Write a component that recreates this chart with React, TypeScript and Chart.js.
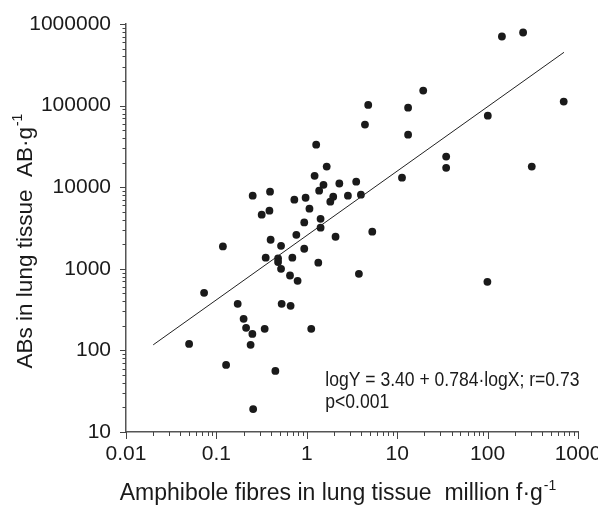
import React, { useEffect, useRef } from "react";
import { Chart, registerables } from "chart.js";

Chart.register(...registerables);

// Amphibole fibres (million f/g) vs asbestos bodies (AB/g)
const fibresX = [
  19.4, 4.78, 13.2, 4.4, 13.2, 1.27, 1.66, 11.3, 1.22, 1.53, 2.29, 3.52, 1.37,
  0.252, 0.392, 0.728, 0.97, 1.96, 1.82, 2.85, 3.97, 0.317, 0.386, 1.07, 0.937,
  1.42, 1.42, 5.3, 0.766, 2.08, 0.398, 0.519, 0.118, 0.937, 0.351, 0.481, 0.692,
  0.481, 1.34, 0.519, 0.652, 0.791, 3.77, 0.0731, 0.172, 0.527, 0.662, 0.2,
  0.213, 0.342, 1.12, 0.25, 0.0499, 0.239, 0.128, 0.449, 0.255, 144, 247, 695,
  100.5, 34.8, 34.8, 308, 99.5,
];
const bodiesY = [
  153000, 102000, 94400, 58500, 44000, 33200, 17900, 13100, 13800, 10700, 11100,
  11700, 9060, 7870, 8810, 7030, 7430, 7640, 6640, 7870, 8090, 4600, 5150, 5450,
  3700, 4100, 3190, 2850, 2610, 2470, 2270, 1910, 1880, 1760, 1370, 1340, 1370,
  1210, 1190, 1000, 828, 713, 869, 508, 372, 372, 352, 244, 189, 184, 184, 159,
  120, 117, 66.4, 56, 19.1, 703000, 787000, 112000, 75300, 23700, 17300, 17900,
  692,
];

// regression line end points
const fitX = [0.02, 700];
const fitY = [117, 450000];

const xRange = [0.01, 1000];
const yRange = [10, 1000000];

const equationLines = ["logY = 3.40 + 0.784·logX; r=0.73", "p<0.001"];
const equationAnchor = [1.6, 45];

const xTitleMain = "Amphibole fibres in lung tissue  million f·g";
const yTitleMain = "ABs in lung tissue  AB·g";
const titleSup = "-1";

const FONT = "'Liberation Sans', Arial, Helvetica, sans-serif";
const INK = "#1a1a1a";

const isPow10 = (v: number) => {
  const l = Math.log10(v);
  return Math.abs(l - Math.round(l)) < 1e-9;
};

const fmt = (v: number) => {
  const l = Math.round(Math.log10(v));
  if (l < 0) return v.toFixed(-l);
  return String(Math.round(v));
};

function drawRich(
  ctx: CanvasRenderingContext2D,
  main: string,
  sup: string,
  size: number,
  cx: number,
  baseY: number,
  angle: number,
  hscale: number
) {
  ctx.save();
  ctx.translate(cx, baseY);
  ctx.rotate(angle);
  ctx.scale(hscale, 1);
  ctx.textAlign = "left";
  ctx.textBaseline = "alphabetic";
  const mainFont = `${size}px ${FONT}`;
  const supFont = `${Math.round(size * 0.6)}px ${FONT}`;
  ctx.font = mainFont;
  const w1 = ctx.measureText(main).width;
  ctx.font = supFont;
  const w2 = ctx.measureText(sup).width;
  const x0 = -(w1 + 1 + w2) / 2;
  ctx.font = mainFont;
  ctx.fillText(main, x0, 0);
  ctx.font = supFont;
  ctx.fillText(sup, x0 + w1 + 1, -size * 0.45);
  ctx.restore();
}

const decorPlugin = {
  id: "decor",
  afterDraw(chart: any) {
    const { ctx } = chart;
    const xs = chart.scales.x;
    const ys = chart.scales.y;
    ctx.save();
    ctx.strokeStyle = "#444";
    ctx.lineWidth = 1;
    ctx.beginPath();
    const xe0 = Math.round(Math.log10(xRange[0]));
    const xe1 = Math.round(Math.log10(xRange[1]));
    for (let e = xe0; e <= xe1; e++) {
      for (let m = 1; m <= 9; m++) {
        const v = m * Math.pow(10, e);
        if (v > xRange[1] * 1.0001) break;
        const px = Math.round(xs.getPixelForValue(v)) + 0.5;
        const len = m === 1 ? 7 : 4;
        ctx.moveTo(px, xs.top);
        ctx.lineTo(px, xs.top + len);
      }
    }
    const ye0 = Math.round(Math.log10(yRange[0]));
    const ye1 = Math.round(Math.log10(yRange[1]));
    for (let e = ye0; e <= ye1; e++) {
      for (let m = 1; m <= 9; m++) {
        const v = m * Math.pow(10, e);
        if (v > yRange[1] * 1.0001) break;
        const py = Math.round(ys.getPixelForValue(v)) + 0.5;
        const len = m === 1 ? 6 : 3.5;
        ctx.moveTo(ys.right, py);
        ctx.lineTo(ys.right - len, py);
      }
    }
    ctx.stroke();

    ctx.fillStyle = INK;
    // axis titles
    const area = chart.chartArea;
    drawRich(ctx, xTitleMain, titleSup, 23, area.left + 212, 500, 0, 1);
    drawRich(ctx, yTitleMain, titleSup, 22.5, 32, area.top + 217, -Math.PI / 2, 1);

    // equation annotation
    ctx.font = `19.5px ${FONT}`;
    ctx.textAlign = "left";
    ctx.textBaseline = "alphabetic";
    const ex = xs.getPixelForValue(equationAnchor[0]);
    const ey = ys.getPixelForValue(equationAnchor[1]);
    equationLines.forEach((t, i) => {
      ctx.save();
      ctx.translate(ex, ey + 7 + i * 22);
      ctx.scale(0.9, 1);
      ctx.fillText(t, 0, 0);
      ctx.restore();
    });
    ctx.restore();
  },
};

export default function App() {
  const ref = useRef<HTMLCanvasElement | null>(null);

  useEffect(() => {
    document.body.style.margin = "0";
    const canvas = ref.current;
    if (!canvas) return;
    const points = fibresX.map((x, i) => ({ x, y: bodiesY[i] }));
    const line = fitX.map((x, i) => ({ x, y: fitY[i] }));
    const chart = new Chart(canvas, {
      type: "scatter",
      data: {
        datasets: [
          {
            data: line,
            showLine: true,
            borderColor: "#222",
            borderWidth: 1,
            pointRadius: 0,
            fill: false,
          },
          {
            data: points,
            pointRadius: 3.9,
            pointBackgroundColor: INK,
            pointBorderWidth: 0,
            pointHoverRadius: 3.9,
          },
        ],
      },
      options: {
        responsive: false,
        animation: false,
        events: [],
        layout: { padding: { top: 24, right: 20, left: 0, bottom: 0 } },
        plugins: {
          legend: { display: false },
          tooltip: { enabled: false },
        },
        scales: {
          x: {
            type: "logarithmic",
            min: xRange[0],
            max: xRange[1],
            grid: { display: false, drawTicks: false },
            border: { display: true, color: "#555", width: 1.5 },
            ticks: {
              autoSkip: false,
              maxRotation: 0,
              padding: 10,
              color: INK,
              font: { family: FONT, size: 21 },
              callback: (v: any) => (isPow10(Number(v)) ? fmt(Number(v)) : ""),
            },
            title: { display: false },
            afterFit: (s: any) => {
              s.height = 80;
              s.paddingLeft = 0;
              s.paddingRight = 0;
            },
          },
          y: {
            type: "logarithmic",
            min: yRange[0],
            max: yRange[1],
            grid: { display: false, drawTicks: false },
            border: { display: true, color: "#555", width: 1.5 },
            ticks: {
              autoSkip: false,
              padding: 15,
              color: INK,
              font: { family: FONT, size: 21 },
              callback: (v: any) => (isPow10(Number(v)) ? fmt(Number(v)) : ""),
            },
            title: { display: false },
            afterFit: (s: any) => {
              s.width = 126;
              s.paddingTop = 0;
              s.paddingBottom = 0;
            },
          },
        },
      },
      plugins: [decorPlugin],
    });
    return () => chart.destroy();
  }, []);

  return (
    <div style={{ position: "absolute", left: 0, top: 0, width: 598, height: 512, background: "#fff" }}>
      <canvas ref={ref} width={598} height={512} />
    </div>
  );
}
